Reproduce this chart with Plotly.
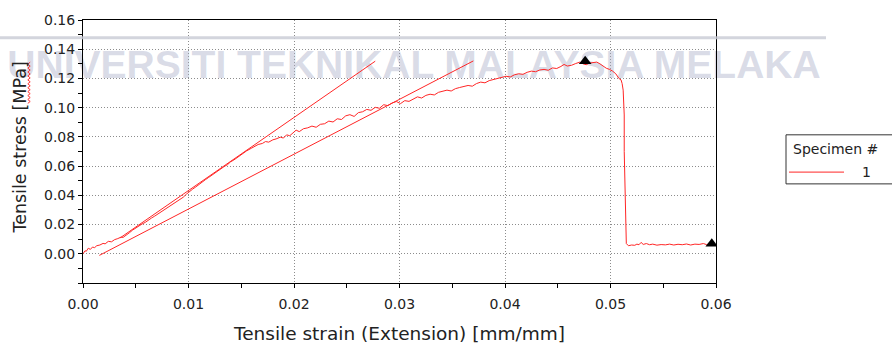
import plotly.graph_objects as go

# ---- measured tensile test, specimen 1 ----
strain = [
    0.0000, 0.0002, 0.0003, 0.0005, 0.0007, 0.0009, 0.0011, 0.0013, 0.0016, 0.0019,
    0.0021, 0.0024, 0.0027, 0.0030, 0.0033, 0.0036, 0.0038, 0.0041, 0.0044, 0.0047,
    0.0050, 0.0053, 0.0056, 0.0059, 0.0062, 0.0065, 0.0068, 0.0071, 0.0074, 0.0077,
    0.0080, 0.0083, 0.0086, 0.0089, 0.0092, 0.0095, 0.0098, 0.0101, 0.0104, 0.0107,
    0.0110, 0.0113, 0.0116, 0.0119, 0.0122, 0.0125, 0.0128, 0.0131, 0.0134, 0.0137,
    0.0140, 0.0143, 0.0147, 0.0151, 0.0155, 0.0160, 0.0163, 0.0166, 0.0170, 0.0173,
    0.0176, 0.0180, 0.0183, 0.0187, 0.0190, 0.0193, 0.0196, 0.0199, 0.0202, 0.0205,
    0.0209, 0.0213, 0.0217, 0.0221, 0.0225, 0.0229, 0.0233, 0.0237, 0.0241, 0.0245,
    0.0249, 0.0253, 0.0257, 0.0261, 0.0265, 0.0269, 0.0273, 0.0277, 0.0281, 0.0285,
    0.0289, 0.0293, 0.0297, 0.0301, 0.0305, 0.0309, 0.0313, 0.0317, 0.0321, 0.0325,
    0.0329, 0.0333, 0.0337, 0.0341, 0.0345, 0.0349, 0.0353, 0.0357, 0.0361, 0.0365,
    0.0369, 0.0373, 0.0377, 0.0381, 0.0385, 0.0389, 0.0393, 0.0397, 0.0401, 0.0405,
    0.0409, 0.0413, 0.0417, 0.0421, 0.0425, 0.0429, 0.0433, 0.0437, 0.0441, 0.0445,
    0.0449, 0.0453, 0.0456, 0.0459, 0.0463, 0.0467, 0.0471, 0.0474, 0.0477, 0.0480,
    0.0484, 0.0487, 0.0490, 0.0493, 0.0496, 0.0499, 0.0502, 0.0505, 0.0508, 0.0510,
    0.0511, 0.0512, 0.0513, 0.0513, 0.0514, 0.0515, 0.0515, 0.0517, 0.0520, 0.0523,
    0.0525, 0.0527, 0.0529, 0.0531, 0.0534, 0.0537, 0.0540, 0.0544, 0.0548, 0.0552,
    0.0556, 0.0560, 0.0564, 0.0568, 0.0572, 0.0576, 0.0580, 0.0584, 0.0588, 0.0591,
    0.0594, 0.0596,
]
stress = [
    0.0000, 0.0021, 0.0016, 0.0038, 0.0030, 0.0046, 0.0042, 0.0055, 0.0060, 0.0071,
    0.0068, 0.0085, 0.0082, 0.0097, 0.0104, 0.0114, 0.0112, 0.0131, 0.0144, 0.0162,
    0.0178, 0.0190, 0.0204, 0.0215, 0.0232, 0.0245, 0.0258, 0.0272, 0.0288, 0.0299,
    0.0315, 0.0328, 0.0345, 0.0358, 0.0373, 0.0387, 0.0408, 0.0428, 0.0443, 0.0458,
    0.0476, 0.0490, 0.0507, 0.0522, 0.0538, 0.0551, 0.0569, 0.0581, 0.0598, 0.0610,
    0.0630, 0.0642, 0.0664, 0.0682, 0.0704, 0.0724, 0.0735, 0.0748, 0.0755, 0.0768,
    0.0764, 0.0780, 0.0786, 0.0798, 0.0792, 0.0814, 0.0808, 0.0830, 0.0846, 0.0836,
    0.0856, 0.0862, 0.0874, 0.0866, 0.0886, 0.0890, 0.0908, 0.0902, 0.0924, 0.0919,
    0.0944, 0.0952, 0.0940, 0.0966, 0.0972, 0.0988, 0.0982, 0.1002, 0.0996, 0.1020,
    0.1014, 0.1032, 0.1042, 0.1028, 0.1048, 0.1043, 0.1060, 0.1074, 0.1066, 0.1084,
    0.1092, 0.1087, 0.1105, 0.1112, 0.1120, 0.1114, 0.1130, 0.1138, 0.1146, 0.1152,
    0.1147, 0.1165, 0.1175, 0.1170, 0.1185, 0.1192, 0.1198, 0.1205, 0.1215, 0.1210,
    0.1225, 0.1232, 0.1228, 0.1242, 0.1250, 0.1246, 0.1258, 0.1262, 0.1256, 0.1272,
    0.1268, 0.1282, 0.1296, 0.1285, 0.1290, 0.1302, 0.1312, 0.1300, 0.1294, 0.1305,
    0.1310, 0.1312, 0.1300, 0.1285, 0.1270, 0.1262, 0.1250, 0.1232, 0.1200, 0.1190,
    0.1165, 0.1120, 0.0950, 0.0700, 0.0400, 0.0150, 0.0070, 0.0055, 0.0060, 0.0058,
    0.0066, 0.0062, 0.0078, 0.0064, 0.0070, 0.0062, 0.0066, 0.0059, 0.0063, 0.0061,
    0.0066, 0.0060, 0.0065, 0.0062, 0.0067, 0.0060, 0.0066, 0.0064, 0.0070, 0.0063,
    0.0068, 0.0066,
]

# modulus / offset construction lines
tangent_strain = [0.0035, 0.0277]
tangent_stress = [0.0108, 0.1318]
offset_strain = [0.00155, 0.0370]
offset_stress = [-0.0011, 0.1320]

# peak and break markers
marker_strain = [0.0476, 0.0596]
marker_stress = [0.1318, 0.0068]

x_ticks = [0.00, 0.01, 0.02, 0.03, 0.04, 0.05, 0.06]
y_ticks = [0.00, 0.02, 0.04, 0.06, 0.08, 0.10, 0.12, 0.14, 0.16]

X_RANGE = [0.0, 0.06]
Y_RANGE = [-0.02, 0.16]

W, H = 892, 349
ML, MR, MT, MB = 83, 176, 15, 66
PW, PH = W - ML - MR, H - MT - MB

RED = "#ff2626"
INK = "#222222"
FONT = "DejaVu Sans"


def px_to_data(px, py):
    x = X_RANGE[0] + (px - ML) / PW * (X_RANGE[1] - X_RANGE[0])
    y = Y_RANGE[1] - (py - MT) / PH * (Y_RANGE[1] - Y_RANGE[0])
    return x, y


def px_to_paper(px, py):
    return (px - ML) / PW, (H - MB - py) / PH


fig = go.Figure()

# watermark text sits beneath the curves
wx, wy = px_to_data(414, 64)
fig.add_trace(go.Scatter(
    x=[wx], y=[wy], mode="text",
    text=["<b>UNIVERSITI TEKNIKAL MALAYSIA MELAKA</b>"],
    textfont=dict(family="Liberation Sans", size=39, color="rgba(165,170,198,0.42)"),
    textposition="middle center", cliponaxis=False,
    hoverinfo="skip", showlegend=False,
))

fig.add_trace(go.Scatter(
    x=strain, y=stress, mode="lines", name="1",
    line=dict(color=RED, width=1), showlegend=False,
))
fig.add_trace(go.Scatter(
    x=tangent_strain, y=tangent_stress, mode="lines",
    line=dict(color=RED, width=1), showlegend=False, hoverinfo="skip",
))
fig.add_trace(go.Scatter(
    x=offset_strain, y=offset_stress, mode="lines",
    line=dict(color=RED, width=1), showlegend=False, hoverinfo="skip",
))
fig.add_trace(go.Scatter(
    x=marker_strain, y=marker_stress, mode="markers",
    marker=dict(symbol="triangle-up", size=11, color="black"),
    showlegend=False,
))

shapes = []
annotations = []

# faint banner rule across the top
bx0, by = px_to_paper(0, 33)
bx1, _ = px_to_paper(826, 33)
shapes.append(dict(type="line", xref="paper", yref="paper", x0=bx0, x1=bx1,
                   y0=by, y1=by, line=dict(color="rgba(200,203,212,0.8)", width=3),
                   layer="above"))

# legend box (extends past the right edge)
lx0, ly0 = px_to_paper(786, 182)
lx1, ly1 = px_to_paper(910, 132)
shapes.append(dict(type="rect", xref="paper", yref="paper", x0=lx0, x1=lx1,
                   y0=ly0, y1=ly1, line=dict(color="#333333", width=1),
                   fillcolor="white"))
sx0, sy = px_to_paper(789, 170)
sx1, _ = px_to_paper(844, 170)
shapes.append(dict(type="line", xref="paper", yref="paper", x0=sx0, x1=sx1,
                   y0=sy, y1=sy, line=dict(color=RED, width=1)))
tx, ty = px_to_paper(791, 146)
annotations.append(dict(xref="paper", yref="paper", x=tx, y=ty, text="Specimen #",
                        showarrow=False, xanchor="left", yanchor="middle",
                        font=dict(family=FONT, size=14, color=INK)))
nx, ny = px_to_paper(866, 170)
annotations.append(dict(xref="paper", yref="paper", x=nx, y=ny, text="1",
                        showarrow=False, xanchor="center", yanchor="middle",
                        font=dict(family=FONT, size=14, color=INK)))

# axis titles
xt, yt = px_to_paper(399, 334)
annotations.append(dict(xref="paper", yref="paper", x=xt, y=yt,
                        text="Tensile strain (Extension) [mm/mm]", showarrow=False,
                        xanchor="center", yanchor="middle",
                        font=dict(family=FONT, size=18.5, color=INK)))
yx, yy = px_to_paper(20, 145)
annotations.append(dict(xref="paper", yref="paper", x=yx, y=yy,
                        text="Tensile stress [MPa]", showarrow=False, textangle=-90,
                        xanchor="center", yanchor="middle",
                        font=dict(family=FONT, size=17.5, color=INK)))

# red wavy spell-check underline beside "MPa"
pts = []
py_ = 58.0
k = 0
while py_ <= 100.0:
    ox = 29.0 + (1.2 if k % 2 == 0 else -1.2)
    pts.append(px_to_paper(ox, py_))
    py_ += 2.0
    k += 1
path = "M " + " L ".join(f"{a:.5f},{b:.5f}" for a, b in pts)
shapes.append(dict(type="path", xref="paper", yref="paper", path=path,
                   line=dict(color="#ff3030", width=1)))

grid = dict(showgrid=True, gridcolor="#8c8c8c", griddash="1px,2px", gridwidth=1)

fig.update_layout(
    width=W, height=H,
    margin=dict(l=ML, r=MR, t=MT, b=MB, pad=0),
    paper_bgcolor="white", plot_bgcolor="white",
    font=dict(family=FONT, size=14, color=INK),
    showlegend=False,
    shapes=shapes, annotations=annotations,
    xaxis=dict(
        range=X_RANGE, tickmode="array", tickvals=x_ticks,
        ticktext=[f"{v:.2f}" for v in x_ticks],
        ticks="outside", ticklen=4, tickcolor="black", ticklabelstandoff=4,
        minor=dict(dtick=0.005, ticks="outside", ticklen=4, tickcolor="black", showgrid=False),
        showline=True, linecolor="black", linewidth=1, mirror=True,
        zeroline=False, tickfont=dict(size=14, color=INK), **grid,
    ),
    yaxis=dict(
        range=Y_RANGE, tickmode="array", tickvals=y_ticks,
        ticktext=[f"{v:.2f}" for v in y_ticks],
        ticks="outside", ticklen=4, tickcolor="black",
        minor=dict(dtick=0.01, ticks="outside", ticklen=4, tickcolor="black", showgrid=False),
        showline=True, linecolor="black", linewidth=1, mirror=True,
        zeroline=False, tickfont=dict(size=14, color=INK), **grid,
    ),
    # inward halves of the crossing tick marks
    xaxis2=dict(range=X_RANGE, overlaying="x", anchor="y", side="bottom",
                tickmode="linear", tick0=0, dtick=0.005, ticks="inside", ticklen=4,
                tickcolor="black", showticklabels=False, showgrid=False,
                showline=False, zeroline=False),
    yaxis2=dict(range=Y_RANGE, overlaying="y", anchor="x", side="left",
                tickmode="linear", tick0=0, dtick=0.01, ticks="inside", ticklen=4,
                tickcolor="black", showticklabels=False, showgrid=False,
                showline=False, zeroline=False),
)

fig.write_html("out.html")
